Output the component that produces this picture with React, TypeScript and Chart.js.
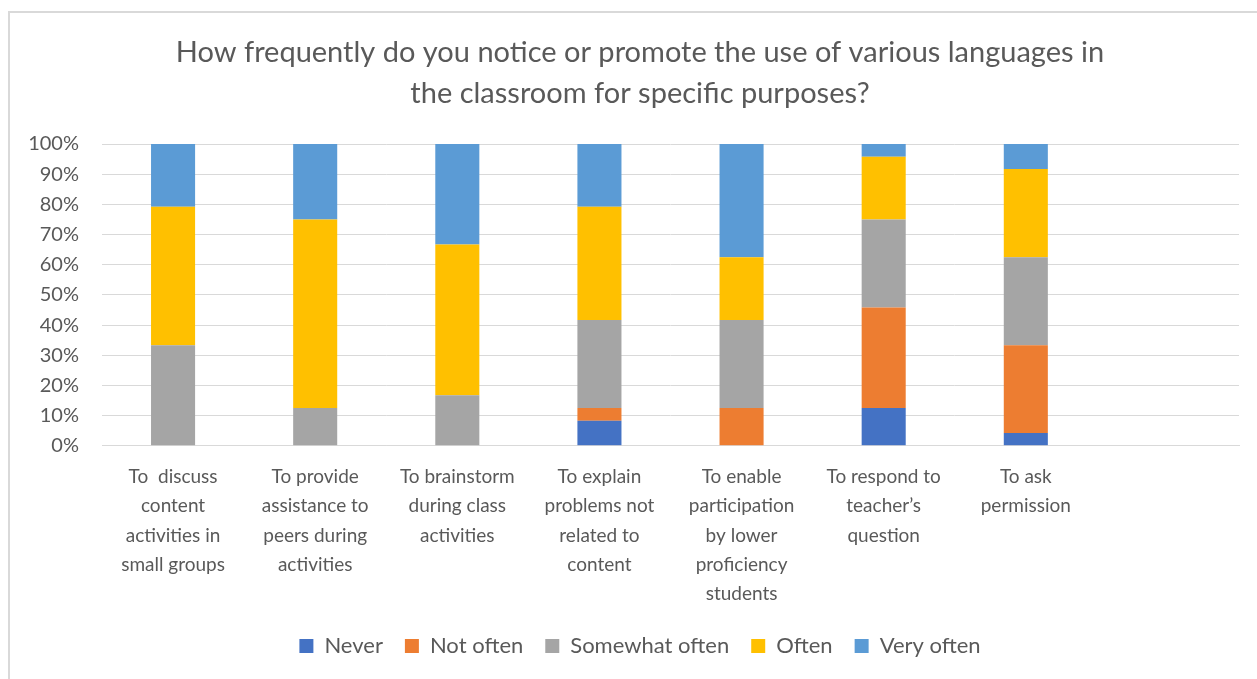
import React, { useEffect, useRef } from "react";
import { Chart, registerables } from "chart.js";

Chart.register(...registerables);

const titleLines = [
  "How frequently do you notice or promote the use of various languages in",
  "the classroom for specific purposes?",
];

const categories: string[][] = [
  ["To  discuss", "content", "activities in", "small groups"],
  ["To provide", "assistance to", "peers during", "activities"],
  ["To brainstorm", "during class", "activities"],
  ["To explain", "problems not", "related to", "content"],
  ["To enable", "participation", "by lower", "proficiency", "students"],
  ["To respond to", "teacher\u2019s", "question"],
  ["To ask", "permission"],
  [""],
];

const never = [0, 0, 0, 8.3, 0, 12.5, 4.2, null];
const notOften = [0, 0, 0, 4.2, 12.5, 33.3, 29.1, null];
const somewhatOften = [33.3, 12.5, 16.7, 29.2, 29.2, 29.2, 29.2, null];
const often = [45.9, 62.5, 50.0, 37.5, 20.8, 20.8, 29.2, null];
const veryOften = [20.8, 25.0, 33.3, 20.8, 37.5, 4.2, 8.3, null];

const seriesNames = ["Never", "Not often", "Somewhat often", "Often", "Very often"];
const seriesColors = ["#4472C4", "#ED7D31", "#A5A5A5", "#FFC000", "#5B9BD5"];

const FONT = "Lato, 'Liberation Sans', sans-serif";
const TEXT = "#595959";

export default function App() {
  const ref = useRef<HTMLCanvasElement | null>(null);

  useEffect(() => {
    if (!ref.current) return;
    const values = [never, notOften, somewhatOften, often, veryOften];
    const chart = new Chart(ref.current, {
      type: "bar",
      data: {
        labels: categories,
        datasets: seriesNames.map((name, i) => ({
          label: name,
          data: values[i],
          backgroundColor: seriesColors[i],
          borderWidth: 0,
          barPercentage: 0.31,
          categoryPercentage: 1,
        })),
      },
      options: {
        animation: false,
        responsive: false,
        maintainAspectRatio: false,
        layout: { padding: { top: 12, right: 0, bottom: 12, left: 23 } },
        plugins: {
          title: {
            display: true,
            text: titleLines,
            color: TEXT,
            font: { family: FONT, size: 29, weight: "normal", lineHeight: 1.414 },
            padding: { top: 20, bottom: 30 },
          },
          legend: {
            position: "bottom",
            labels: {
              color: TEXT,
              font: { family: FONT, size: 22 },
              boxWidth: 14,
              boxHeight: 14,
              padding: 22,
            },
          },
          tooltip: { enabled: false },
        },
        scales: {
          x: {
            stacked: true,
            afterFit: (scale: any) => {
              scale.height -= 12;
            },
            grid: { display: false, drawTicks: false },
            border: { display: true, color: "#d9d9d9", width: 1 },
            ticks: {
              color: TEXT,
              font: { family: FONT, size: 19, lineHeight: 1.55 },
              maxRotation: 0,
              minRotation: 0,
              autoSkip: false,
              padding: 16,
            },
          },
          y: {
            stacked: true,
            min: 0,
            max: 100,
            afterFit: (scale: any) => {
              scale.width = 79;
            },
            grid: { color: "#d9d9d9", lineWidth: 1, drawTicks: false },
            border: { display: false },
            ticks: {
              stepSize: 10,
              color: TEXT,
              font: { family: FONT, size: 20 },
              padding: 23,
              callback: (v: any) => v + "%",
            },
          },
          yRight: {
            position: "right",
            min: 0,
            max: 100,
            afterFit: (scale: any) => {
              scale.width = 18;
            },
            grid: { display: false, drawTicks: false },
            border: { display: false },
            ticks: { display: false },
          },
        },
      },
    });
    return () => chart.destroy();
  }, []);

  return (
    <div style={{ position: "absolute", left: 0, top: 0, width: 1257, height: 679, background: "#fff" }}>
      <div
        style={{
          position: "absolute",
          left: 8,
          top: 11,
          width: 1249,
          height: 668,
          borderTop: "2px solid #d9d9d9",
          borderLeft: "2px solid #d9d9d9",
          boxSizing: "border-box",
        }}
      />
      <canvas ref={ref} width={1257} height={679} style={{ position: "absolute", left: 0, top: 0 }} />
    </div>
  );
}
